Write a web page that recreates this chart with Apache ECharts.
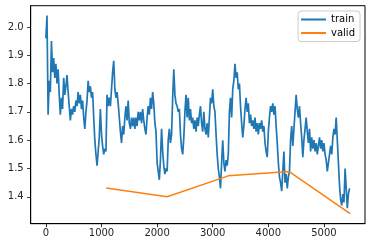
<!DOCTYPE html>
<html>
<head>
<meta charset="utf-8">
<script src="https://cdn.jsdelivr.net/npm/echarts@6/dist/echarts.min.js"></script>
<style>
html,body{margin:0;padding:0;background:#fff;}
#chart{width:372px;height:248px;}
</style>
</head>
<body>
<div id="chart"></div>
<script>
// training loss sampled every 20 steps, starting at step 0
const trainStepSize = 20;
const trainLoss = [
1.96,2.04,1.69,1.81,1.77,1.95,1.84,1.89,1.82,1.87,
1.80,1.85,1.76,1.69,1.75,1.71,1.82,1.76,1.79,1.83,
1.77,1.72,1.67,1.71,1.69,1.72,1.70,1.74,1.72,1.77,
1.73,1.76,1.71,1.74,1.68,1.64,1.70,1.74,1.81,1.77,
1.79,1.75,1.77,1.68,1.60,1.55,1.51,1.56,1.61,1.71,
1.62,1.58,1.55,1.57,1.56,1.76,1.72,1.75,1.72,1.78,
1.84,1.88,1.78,1.75,1.77,1.73,1.68,1.63,1.59,1.65,
1.62,1.68,1.72,1.67,1.74,1.66,1.64,1.68,1.65,1.68,
1.64,1.68,1.65,1.70,1.67,1.70,1.66,1.71,1.67,1.64,
1.62,1.68,1.72,1.69,1.75,1.71,1.77,1.73,1.66,1.63,
1.52,1.49,1.46,1.53,1.64,1.56,1.51,1.48,1.50,1.49,
1.60,1.64,1.59,1.62,1.75,1.85,1.76,1.73,1.72,1.70,
1.71,1.62,1.57,1.55,1.61,1.70,1.76,1.68,1.75,1.67,
1.71,1.66,1.68,1.64,1.67,1.63,1.68,1.65,1.69,1.72,
1.66,1.63,1.70,1.64,1.62,1.66,1.61,1.68,1.75,1.73,
1.78,1.72,1.70,1.62,1.55,1.50,1.47,1.43,1.52,1.60,
1.52,1.49,1.53,1.51,1.55,1.70,1.75,1.68,1.78,1.81,
1.87,1.82,1.84,1.78,1.80,1.72,1.66,1.61,1.65,1.71,
1.75,1.70,1.73,1.66,1.69,1.65,1.67,1.64,1.68,1.63,
1.66,1.62,1.66,1.64,1.67,1.63,1.65,1.59,1.56,1.54,
1.63,1.68,1.72,1.70,1.73,1.69,1.72,1.65,1.59,1.52,
1.47,1.45,1.42,1.49,1.56,1.45,1.48,1.43,1.47,1.49,
1.60,1.65,1.58,1.64,1.70,1.76,1.71,1.68,1.72,1.66,
1.61,1.54,1.60,1.64,1.68,1.63,1.59,1.64,1.56,1.61,
1.57,1.60,1.56,1.59,1.55,1.58,1.61,1.57,1.60,1.56,
1.59,1.55,1.53,1.49,1.52,1.55,1.58,1.55,1.61,1.64,
1.62,1.68,1.60,1.52,1.44,1.39,1.37,1.41,1.38,1.50,
1.43,1.36,1.41,1.43
];
const validSteps = [1085, 2180, 3280, 4375, 5470];
const validLoss = [1.431, 1.400, 1.474, 1.489, 1.341];
const xTicks = [0, 1000, 2000, 3000, 4000, 5000];
const yTicks = [1.4, 1.5, 1.6, 1.7, 1.8, 1.9, 2.0];

const trainData = trainLoss.map((v, i) => [i * trainStepSize, v]);
const validData = validLoss.map((v, i) => [validSteps[i], v]);

const chart = echarts.init(document.getElementById('chart'), null, {renderer: 'canvas'});
const axisCommon = {
  axisLine: {show: true, onZero: false, lineStyle: {color: '#000', width: 1}},
  axisTick: {show: true, inside: false, length: 3.5, lineStyle: {color: '#000', width: 0.8}},
  splitLine: {show: false},
};
chart.setOption({
  animation: false,
  backgroundColor: '#fff',
  grid: {left: 30.7, right: 7, top: 5.7, bottom: 24.3, show: true, borderColor: '#000', borderWidth: 1, backgroundColor: 'transparent'},
  xAxis: Object.assign({}, axisCommon, {
    type: 'value', min: -273, max: 5738,
    axisTick: Object.assign({}, axisCommon.axisTick, {customValues: xTicks}),
    axisLabel: {customValues: xTicks, margin: 5, color: '#262626', fontSize: 10, fontFamily: 'DejaVu Sans',
      formatter: v => String(Math.round(v))}
  }),
  yAxis: Object.assign({}, axisCommon, {
    type: 'value', min: 1.305, max: 2.075,
    axisTick: Object.assign({}, axisCommon.axisTick, {customValues: yTicks}),
    axisLabel: {customValues: yTicks, margin: 7, color: '#262626', fontSize: 10, fontFamily: 'DejaVu Sans',
      formatter: v => v.toFixed(1)}
  }),
  legend: {
    show: true, orient: 'vertical', right: 12, top: 11,
    backgroundColor: 'rgba(255,255,255,0.8)', borderColor: '#cccccc', borderWidth: 1, borderRadius: 3,
    padding: [3, 5, 3, 3], itemGap: 2.5, itemWidth: 25, itemHeight: 2,
    icon: 'rect',
    textStyle: {fontSize: 10, fontFamily: 'DejaVu Sans', color: '#000', lineHeight: 11, padding: [0, 0, 0, 0]},
    data: ['train', 'valid']
  },
  series: [
    {name: 'train', type: 'line', data: trainData, showSymbol: false, symbol: 'none',
      lineStyle: {color: '#1f77b4', width: 1.7}, itemStyle: {color: '#1f77b4'}},
    {name: 'valid', type: 'line', data: validData, showSymbol: false, symbol: 'none',
      lineStyle: {color: '#ff7f0e', width: 1.5}, itemStyle: {color: '#ff7f0e'}}
  ]
});
</script>
</body>
</html>
